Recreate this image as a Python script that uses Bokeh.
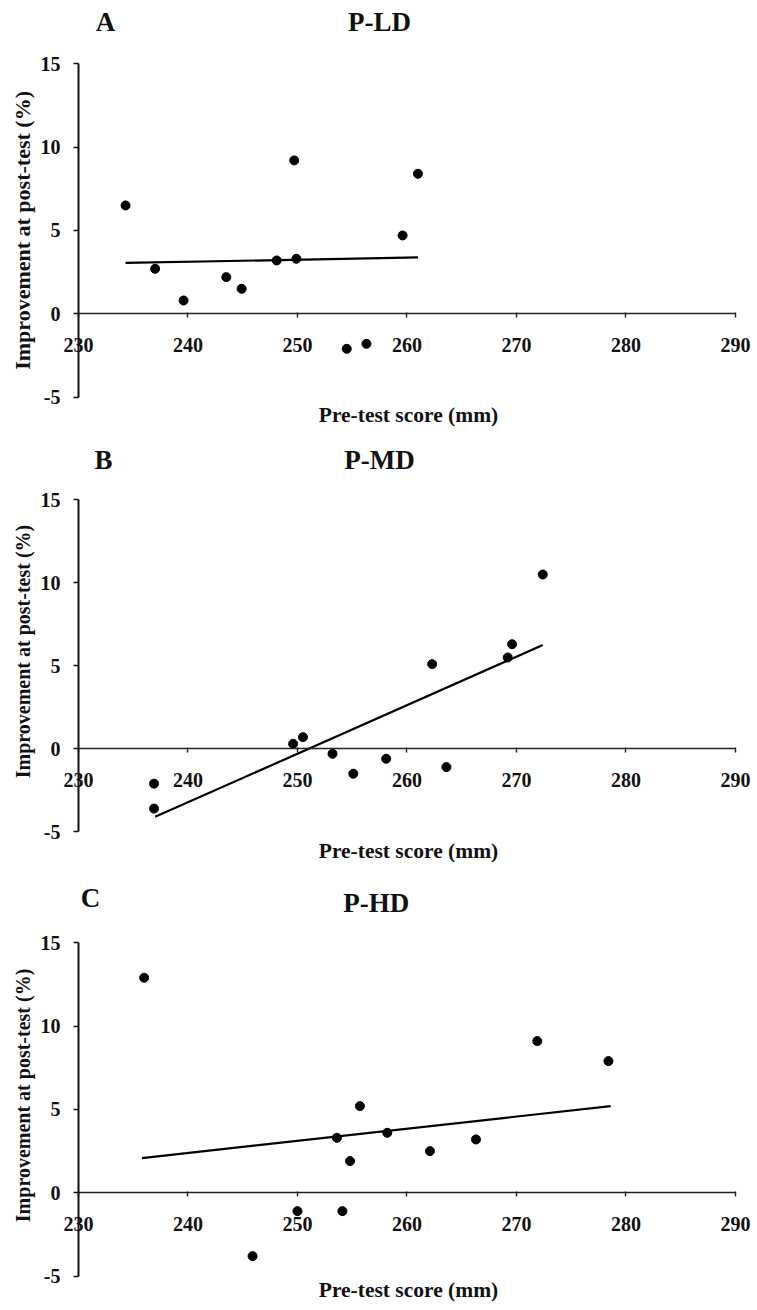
import math
from bokeh.plotting import figure
from bokeh.layouts import column
from bokeh.models import Range1d, FixedTicker, Label
from bokeh.embed import file_html
from bokeh.resources import INLINE

# ---- data ----
x_ticks = [230, 240, 250, 260, 270, 280, 290]
y_ticks = [-5, 0, 5, 10, 15]

pld_x = [234.3, 237.0, 239.6, 243.5, 244.9, 248.1, 249.7, 249.9, 254.5, 256.3, 259.6, 261.0]
pld_y = [6.5, 2.7, 0.8, 2.2, 1.5, 3.2, 9.2, 3.3, -2.1, -1.8, 4.7, 8.4]
pld_fit_x = [234.3, 261.0]
pld_fit_y = [3.05, 3.38]

pmd_x = [236.9, 236.9, 249.6, 250.5, 253.2, 255.1, 258.1, 262.3, 263.6, 269.2, 269.6, 272.4]
pmd_y = [-2.1, -3.6, 0.3, 0.7, -0.3, -1.5, -0.6, 5.1, -1.1, 5.5, 6.3, 10.5]
pmd_fit_x = [237.0, 272.4]
pmd_fit_y = [-4.1, 6.25]

phd_x = [236.0, 245.9, 250.0, 253.6, 254.1, 254.8, 255.7, 258.2, 262.1, 266.3, 271.9, 278.4]
phd_y = [12.9, -3.8, -1.1, 3.3, -1.1, 1.9, 5.2, 3.6, 2.5, 3.2, 9.1, 7.9]
phd_fit_x = [235.8, 278.6]
phd_fit_y = [2.08, 5.2]

x_title = "Pre-test score (mm)"
y_title = "Improvement at post-test (%)"

FONT = "Liberation Serif"
INK = "#111111"
W = 757
X_VIEW = (222.88, 292.01)   # whole canvas width in data units


def txt(p, x, y, text, size, angle=0.0):
    p.add_layout(Label(x=x, y=y, text=text, text_font=FONT,
                       text_font_style="bold", text_font_size=size,
                       text_color=INK, text_align="center",
                       text_baseline="middle", angle=angle))


def make_panel(letter, name, xs, ys, fx, fy, height, y_view,
               letter_xy, name_xy, ytitle_y, ytitle_size, xtitle_y):
    p = figure(width=W, height=height,
               x_range=Range1d(*X_VIEW), y_range=Range1d(*y_view),
               output_backend="svg", toolbar_location=None,
               min_border=0, min_border_left=0, min_border_right=0,
               min_border_top=0, min_border_bottom=0)
    p.grid.visible = False
    p.outline_line_color = None
    p.background_fill_color = "white"
    p.border_fill_color = "white"

    # x axis crossing at y = 0
    xa = p.xaxis[0]
    xa.fixed_location = 0
    xa.bounds = (230, 290)
    xa.ticker = FixedTicker(ticks=x_ticks)
    xa.axis_line_color = "#222222"
    xa.axis_line_width = 1.6
    xa.major_tick_line_color = "#222222"
    xa.major_tick_line_width = 1.4
    xa.major_tick_in = 1
    xa.major_tick_out = 4
    xa.minor_tick_line_color = None
    xa.major_label_standoff = 20
    xa.major_label_text_font = FONT
    xa.major_label_text_font_style = "bold"
    xa.major_label_text_font_size = "20px"
    xa.major_label_text_color = INK

    # y axis at x = 230
    ya = p.yaxis[0]
    ya.fixed_location = 230
    ya.bounds = (-5, 15)
    ya.ticker = FixedTicker(ticks=y_ticks)
    ya.major_label_overrides = {-5: "-5"}
    ya.axis_line_color = "#111111"
    ya.axis_line_width = 2
    ya.major_tick_line_color = "#111111"
    ya.major_tick_line_width = 1.5
    ya.major_tick_in = 0
    ya.major_tick_out = 5
    ya.minor_tick_line_color = None
    ya.major_label_standoff = 13
    ya.major_label_text_font = FONT
    ya.major_label_text_font_style = "bold"
    ya.major_label_text_font_size = "20px"
    ya.major_label_text_color = INK

    p.line(fx, fy, line_color="black", line_width=2.2)
    p.scatter(xs, ys, size=9, fill_color="black", line_color="black")

    txt(p, letter_xy[0], letter_xy[1], letter, "27px")
    txt(p, name_xy[0], name_xy[1], name, "27px")
    txt(p, 224.93, ytitle_y, y_title, ytitle_size, angle=math.pi / 2)
    txt(p, 260.14, xtitle_y, x_title, "21.5px")
    return p


pa = make_panel("A", "P-LD", pld_x, pld_y, pld_fit_x, pld_fit_y,
                height=430, y_view=(-7.0, 18.794),
                letter_xy=(232.47, 17.48), name_xy=(257.49, 17.48),
                ytitle_y=5.0, ytitle_size="22px", xtitle_y=-6.1)
pb = make_panel("B", "P-MD", pmd_x, pmd_y, pmd_fit_x, pmd_fit_y,
                height=432, y_view=(-6.849, 19.175),
                letter_xy=(232.28, 17.37), name_xy=(257.49, 17.37),
                ytitle_y=5.86, ytitle_size="20px", xtitle_y=-6.13)
pc = make_panel("C", "P-HD", phd_x, phd_y, phd_fit_x, phd_fit_y,
                height=448, y_view=(-7.061, 19.814),
                letter_xy=(231.1, 17.71), name_xy=(257.2, 17.41),
                ytitle_y=5.84, ytitle_size="20px", xtitle_y=-5.86)

layout = column(pa, pb, pc, spacing=0)
open("out.html", "w").write(file_html(layout, INLINE))
